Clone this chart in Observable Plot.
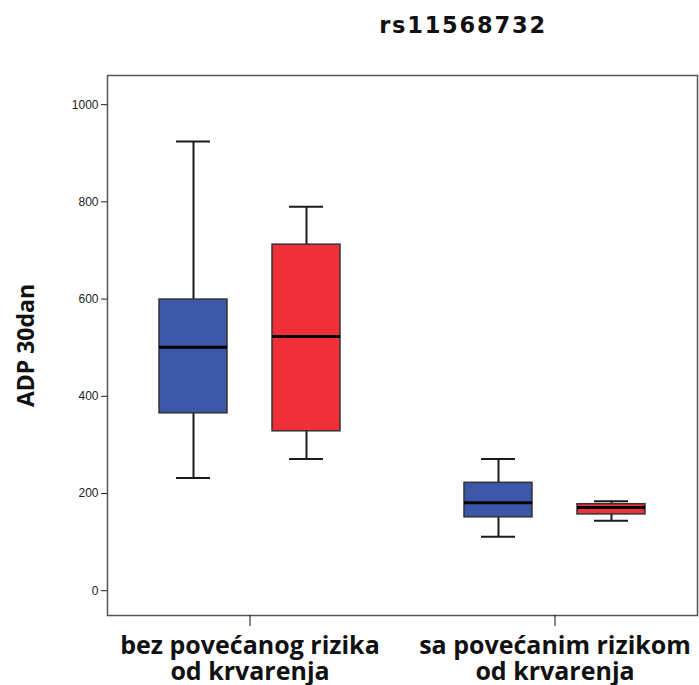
<!DOCTYPE html>
<html>
<head>
<meta charset="utf-8">
<script src="https://cdn.jsdelivr.net/npm/d3@7"></script>
<script src="https://cdn.jsdelivr.net/npm/@observablehq/plot@0.6"></script>
<style>
  body { margin: 0; background: #fff; }
  #title { width: 699px; height: 44px; box-sizing: border-box; padding-left: 227px; text-align: center;
           font: bold 22.5px "DejaVu Sans", sans-serif; letter-spacing: 1.8px; line-height: 50px; color: #111;
           overflow: hidden; }
</style>
</head>
<body>
<div id="title">rs11568732</div>
<div id="chart"></div>
<script>
const groups = ["bez povećanog rizika", "sa povećanim rizikom"];
const groupLine2 = "od krvarenja";
const series = ["A", "B"];
const colors = ["#3D57A8", "#EF3038"];
const yTicks = [0, 200, 400, 600, 800, 1000];
const whiskerLow  = [232, 271, 111, 144];
const q1          = [365, 328, 151, 157];
const median      = [501, 523, 181, 171];
const q3          = [599, 712, 222, 178];
const whiskerHigh = [924, 790, 271, 184];

const rows = whiskerLow.map((lo, i) => ({
  g: groups[Math.floor(i / 2)], s: series[i % 2],
  lo, q1: q1[i], med: median[i], q3: q3[i], hi: whiskerHigh[i]
}));

const ink = "#1a1a1a";
const chart = Plot.plot({
  width: 699, height: 641,
  marginLeft: 106, marginRight: 1, marginTop: 31, marginBottom: 70,
  fx: {domain: groups, paddingInner: 0.065, paddingOuter: 0, axis: null},
  x: {domain: series, paddingInner: 0.395, paddingOuter: 0.452, axis: null},
  y: {domain: [-51, 1060], axis: null},
  color: {domain: series, range: colors},
  marks: [
    Plot.frame({facet: "super", stroke: "#555", strokeWidth: 1.5}),
    Plot.axisY({ticks: yTicks, tickFormat: d => String(d), tickSize: 6, tickPadding: 3, fontSize: 12,
                fontFamily: "Liberation Sans, Arial, sans-serif", label: null, color: "#222"}),
    Plot.axisFx({anchor: "bottom", tickSize: 11, tickPadding: 9, fontSize: 25, fontWeight: "bold",
                 lineHeight: 1.04, fontFamily: "Open Sans, sans-serif", label: null, color: "#111",
                 tickFormat: d => d + "\n" + groupLine2}),
    Plot.text(["ADP 30dan"], {facet: "super", frameAnchor: "left", text: d => d, rotate: -90, dx: -81,
              textAnchor: "middle", fontSize: 23, fontWeight: "bold", fontFamily: "Open Sans, sans-serif", fill: "#111"}),
    Plot.ruleX(rows, {fx: "g", x: "s", y1: "lo", y2: "q1", stroke: ink, strokeWidth: 2}),
    Plot.ruleX(rows, {fx: "g", x: "s", y1: "q3", y2: "hi", stroke: ink, strokeWidth: 2}),
    Plot.tickY(rows, {fx: "g", x: "s", y: "lo", stroke: ink, strokeWidth: 2, insetLeft: 17, insetRight: 17}),
    Plot.tickY(rows, {fx: "g", x: "s", y: "hi", stroke: ink, strokeWidth: 2, insetLeft: 17, insetRight: 17}),
    Plot.barY(rows, {fx: "g", x: "s", y1: "q1", y2: "q3", fill: "s", stroke: "#333", strokeWidth: 1.5}),
    Plot.tickY(rows, {fx: "g", x: "s", y: "med", stroke: "#000", strokeWidth: 3})
  ]
});
document.getElementById("chart").append(chart);
</script>
</body>
</html>
